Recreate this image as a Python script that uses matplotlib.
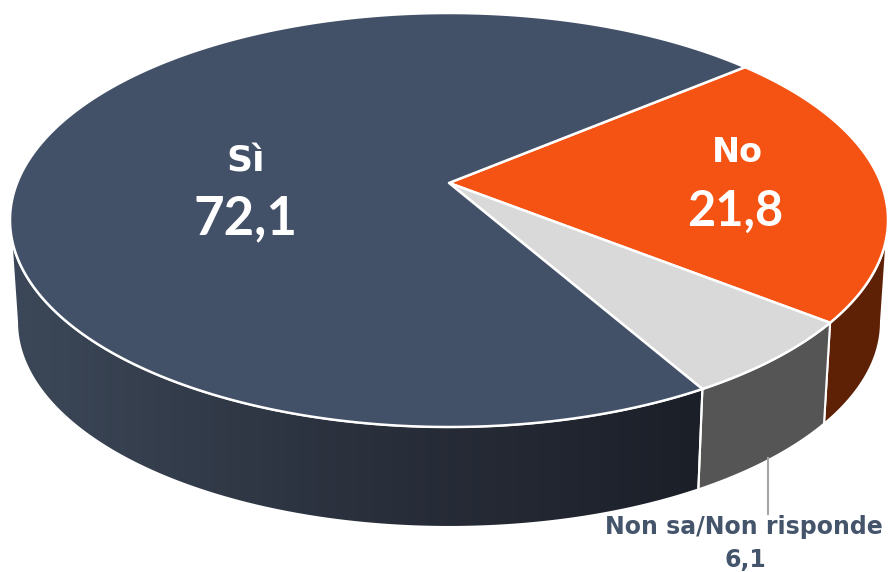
import numpy as np
import matplotlib
matplotlib.use('Agg')
from matplotlib import pyplot as plt
from matplotlib.patches import Polygon
from matplotlib.colors import LinearSegmentedColormap

# Data
labels = ["No", "Non sa/Non risponde", "Sì"]
values = [21.8, 6.1, 72.1]
top_colors = ["#f55314", "#d9d9d9", "#435168"]
side_colors = ["#5f2106", "#555555", None]  # None -> gradient

# Geometry in pixel space (y grows downward)
cx, cy, a, b = 449, 220, 439, 207       # top ellipse
cx2, cy2, a2, b2 = 449, 322, 432, 205   # bottom ellipse
tilt = 0.179                            # perspective shift of the pie centre
start_view = -47.6                      # where the first slice starts on screen

# perspective: Klein-disc translation, done as a Moebius map on the rim
k = -tilt
p = (1 - np.sqrt(1 - k * k)) / k
q = 1j * p

def to_view(theta):
    z = np.exp(1j * np.radians(theta))
    return np.degrees(np.angle((z + q) / (1 + np.conj(q) * z)))

def from_view(phi):
    z = np.exp(1j * np.radians(phi))
    return np.degrees(np.angle((z - q) / (1 - np.conj(q) * z)))

apex = (cx, cy + k * b)

fig = plt.figure(figsize=(8.9, 5.72), dpi=100)
ax = fig.add_axes([0, 0, 1, 1])

def top_pt(t):
    t = np.radians(t)
    return cx + a * np.cos(t), cy + b * np.sin(t)

def bot_pt(t):
    t = np.radians(t)
    return cx2 + a2 * np.cos(t), cy2 + b2 * np.sin(t)

true_angles = np.cumsum([0] + [v / sum(values) * 360 for v in values]) + from_view(start_view)
view_angles = [to_view(t) for t in true_angles]
# unwrap so angles increase
for i in range(1, len(view_angles)):
    while view_angles[i] <= view_angles[i - 1]:
        view_angles[i] += 360

grad = LinearSegmentedColormap.from_list("g", ["#3c4859", "#2a303c", "#1b1f28"])

# Sides (only the front half, 0..180)
for i in range(len(values)):
    t0, t1 = view_angles[i], view_angles[i + 1]
    for off in (-360, 0, 360):
        s0, s1 = max(t0 - off, 0), min(t1 - off, 180)
        if s1 <= s0:
            continue
        ts = np.linspace(s0, s1, 200)
        top = np.array([top_pt(t) for t in ts])
        bot = np.array([bot_pt(t) for t in ts[::-1]])
        poly = np.vstack([top, bot])
        if side_colors[i] is None:
            patch = Polygon(poly, closed=True, facecolor='none', edgecolor='white', lw=1.5, zorder=2)
            ax.add_patch(patch)
            img = ax.imshow(np.linspace(0, 1, 256).reshape(1, -1), cmap=grad, aspect='auto',
                            extent=[poly[:, 0].min(), poly[:, 0].max(), poly[:, 1].max(), poly[:, 1].min()],
                            zorder=1)
            img.set_clip_path(patch)
        else:
            ax.add_patch(Polygon(poly, closed=True, facecolor=side_colors[i], edgecolor='white', lw=1.5, zorder=2))

# Top face wedges
for i in range(len(values)):
    ts = np.linspace(view_angles[i], view_angles[i + 1], 300)
    arc = np.array([top_pt(t) for t in ts])
    poly = np.vstack([[apex], arc])
    ax.add_patch(Polygon(poly, closed=True, facecolor=top_colors[i], edgecolor='white', lw=1.8,
                         joinstyle='round', zorder=3))

ax.set_xlim(0, 890)
ax.set_ylim(572, 0)
ax.axis('off')

word_font = 'DejaVu Sans'
num_font = 'Lato'
ax.text(246, 162, "Sì", color='white', fontsize=26, fontweight='bold', ha='center', va='center', family=word_font, zorder=5)
ax.text(245, 219, "72,1", color='white', fontsize=38, fontweight='bold', ha='center', va='center', family=num_font, zorder=5)
ax.text(737, 152, "No", color='white', fontsize=24, fontweight='bold', ha='center', va='center', family=word_font, zorder=5)
ax.text(735, 211, "21,8", color='white', fontsize=35, fontweight='bold', ha='center', va='center', family=num_font, zorder=5)

# Leader line and outside label
ax.plot([768, 768], [458, 514], color='#a6a6a6', lw=1.5, zorder=4)
ax.text(744, 527, "Non sa/Non risponde", color='#44546a', fontsize=17, fontweight='bold',
        ha='center', va='center', family=word_font, zorder=5)
ax.text(745, 560, "6,1", color='#44546a', fontsize=17, fontweight='bold',
        ha='center', va='center', family=word_font, zorder=5)

fig.savefig('out.png', dpi=100)
